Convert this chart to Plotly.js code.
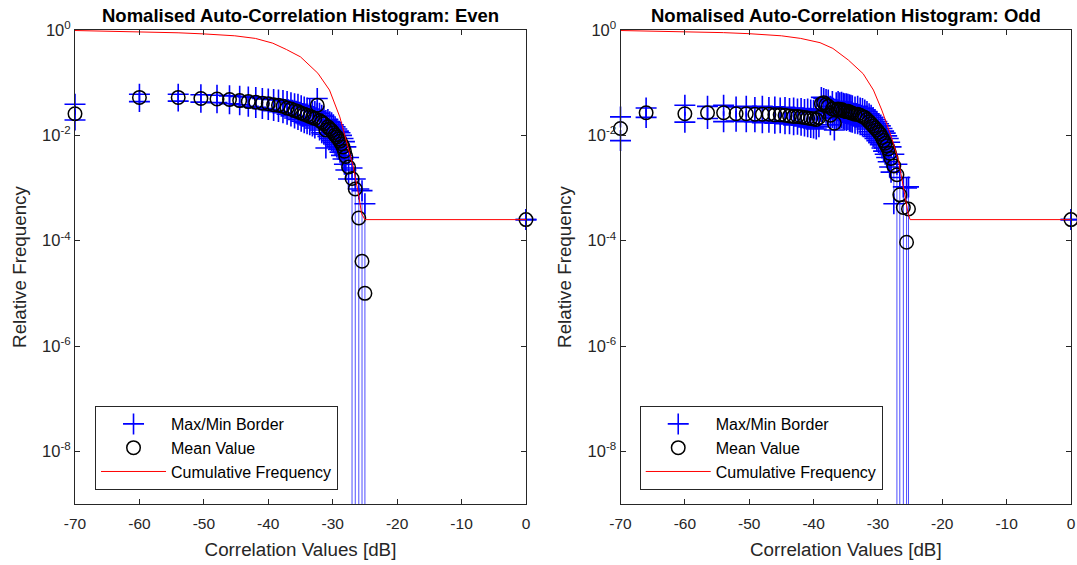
<!DOCTYPE html>
<html>
<head>
<meta charset="utf-8">
<script src="https://cdn.plot.ly/plotly-3.0.1.min.js"></script>
<style>
html,body{margin:0;padding:0;background:#fff;}
#chart{width:1077px;height:565px;}
</style>
</head>
<body>
<div id="chart"></div>
<script>
// ---------------- Even ----------------
const evenX = [-70, -60.0, -53.98, -50.46, -47.96, -46.02, -44.44, -43.10, -41.94, -40.92, -40.00, -39.17, -38.42, -37.72, -37.08, -36.48, -35.92, -35.39, -34.89, -34.42, -33.98, -33.56, -33.15, -32.77, -32.40, -32.04, -31.70, -31.37, -31.06, -30.75, -30.46, -30.17, -29.90, -29.63, -29.37, -29.12, -28.87, -28.64, -28.40, -28.18, -27.96, -27.54, -27.0, -26.5, -25.95, -25.45, -25.0, 0];
const evenMean = [0.0257, 0.0525, 0.0525, 0.0501, 0.0490, 0.0479, 0.0457, 0.0437, 0.0427, 0.0407, 0.0398, 0.0380, 0.0372, 0.0355, 0.0331, 0.0316, 0.0295, 0.0282, 0.0263, 0.0251, 0.0240, 0.0229, 0.0219, 0.0209, 0.0372, 0.0191, 0.0178, 0.0166, 0.0126, 0.0145, 0.0132, 0.0123, 0.0112, 0.0102, 0.00933, 0.00851, 0.00776, 0.00692, 0.00603, 0.00501, 0.00398, 0.00251, 0.00151, 0.000955, 0.000269, 0.0000407, 0.0000100, 0.000251];
const evenMax = [0.0389, 0.0603, 0.0603, 0.0589, 0.0575, 0.0562, 0.0550, 0.0537, 0.0525, 0.0501, 0.0490, 0.0479, 0.0468, 0.0457, 0.0437, 0.0417, 0.0398, 0.0389, 0.0363, 0.0347, 0.0331, 0.0316, 0.0302, 0.0282, 0.0501, 0.0263, 0.0240, 0.0229, 0.0191, 0.0200, 0.0182, 0.0174, 0.0158, 0.0145, 0.0132, 0.0120, 0.0112, 0.0100, 0.00871, 0.00759, 0.00603, 0.00380, 0.00240, 0.00148, 0.000955, 0.000891, 0.000501, 0.000251];
const evenMin = [0.0195, 0.0437, 0.0447, 0.0427, 0.0417, 0.0398, 0.0380, 0.0355, 0.0339, 0.0324, 0.0309, 0.0295, 0.0282, 0.0269, 0.0251, 0.0234, 0.0214, 0.0200, 0.0186, 0.0174, 0.0166, 0.0158, 0.0151, 0.0138, 0.0263, 0.0126, 0.0112, 0.0105, 0.00575, 0.00955, 0.00871, 0.00794, 0.00724, 0.00661, 0.00603, 0.00537, 0.00479, 0.00417, 0.00355, 0.00282, 0.00219, 0.00148, 0, 0, 0, 0, 0, 0.000251];
const evenCumX = [-70, -60, -54, -50, -45.2, -42, -39.3, -37.2, -35, -32.3, -30.5, -28.9, -27.9, -26.8, -26.1, -25.5, -25.0, 0];
const evenCumY = [0.977, 0.925, 0.885, 0.843, 0.776, 0.692, 0.562, 0.427, 0.309, 0.151, 0.0724, 0.0224, 0.00794, 0.00251, 0.000891, 0.000324, 0.000251, 0.000251];

// ---------------- Odd ----------------
const oddX = [-70, -66.02, -60.00, -56.48, -53.98, -52.04, -50.46, -49.12, -47.96, -46.94, -46.02, -45.19, -44.44, -43.74, -43.10, -42.50, -41.94, -41.41, -40.92, -40.44, -40.00, -39.58, -39.17, -38.79, -38.42, -38.06, -37.72, -37.39, -37.08, -36.77, -36.48, -36.19, -35.92, -35.65, -35.39, -35.14, -34.89, -34.66, -34.42, -34.20, -33.98, -33.56, -33.15, -32.76, -32.40, -32.04, -31.70, -31.37, -31.06, -30.75, -30.46, -30.17, -29.90, -29.63, -29.37, -29.12, -28.87, -28.64, -28.40, -28.18, -27.96, -27.53, -27.05, -26.6, -26.05, -25.55, -25.25, 0];
const oddMean = [0.0135, 0.0269, 0.0257, 0.0269, 0.0269, 0.0257, 0.0257, 0.0251, 0.0251, 0.0251, 0.0245, 0.0245, 0.0240, 0.0234, 0.0229, 0.0229, 0.0224, 0.0219, 0.0214, 0.0209, 0.0204, 0.0200, 0.0219, 0.0398, 0.0417, 0.0380, 0.0355, 0.0240, 0.0316, 0.0170, 0.0302, 0.0316, 0.0302, 0.0309, 0.0295, 0.0288, 0.0282, 0.0288, 0.0275, 0.0269, 0.0263, 0.0251, 0.0251, 0.0240, 0.0229, 0.0219, 0.0200, 0.0182, 0.0166, 0.0151, 0.0138, 0.0126, 0.0115, 0.0105, 0.00912, 0.00794, 0.00708, 0.00631, 0.00550, 0.00457, 0.00363, 0.00263, 0.00178, 0.000741, 0.000427, 0.0000933, 0.000398, 0.000251];
const oddMax = [0.0224, 0.0331, 0.0372, 0.0355, 0.0372, 0.0347, 0.0355, 0.0339, 0.0355, 0.0339, 0.0347, 0.0331, 0.0339, 0.0324, 0.0331, 0.0316, 0.0324, 0.0309, 0.0316, 0.0302, 0.0295, 0.0302, 0.0316, 0.0525, 0.0501, 0.0479, 0.0468, 0.0355, 0.0437, 0.0251, 0.0417, 0.0437, 0.0417, 0.0427, 0.0407, 0.0398, 0.0398, 0.0389, 0.0380, 0.0372, 0.0363, 0.0347, 0.0355, 0.0331, 0.0324, 0.0302, 0.0282, 0.0257, 0.0240, 0.0219, 0.0200, 0.0182, 0.0166, 0.0151, 0.0135, 0.0120, 0.0110, 0.00977, 0.00871, 0.00741, 0.00603, 0.00437, 0.00282, 0.00158, 0.00105, 0.00100, 0.00105, 0.000251];
const oddMin = [0.00794, 0.0219, 0.0178, 0.0209, 0.0182, 0.0186, 0.0182, 0.0182, 0.0174, 0.0178, 0.0170, 0.0174, 0.0166, 0.0166, 0.0158, 0.0162, 0.0155, 0.0151, 0.0145, 0.0141, 0.0138, 0.0132, 0.0145, 0.0282, 0.0302, 0.0263, 0.0240, 0.0158, 0.0219, 0.0126, 0.0209, 0.0219, 0.0209, 0.0214, 0.0204, 0.0200, 0.0191, 0.0200, 0.0186, 0.0182, 0.0178, 0.0170, 0.0166, 0.0158, 0.0151, 0.0145, 0.0132, 0.0117, 0.0105, 0.00955, 0.00871, 0.00794, 0.00724, 0.00661, 0.00575, 0.00501, 0.00437, 0.00380, 0.00316, 0.00251, 0.00200, 0.000501, 0, 0, 0, 0, 0, 0.000251];
const oddCumX = [-70, -60, -54, -50, -45, -42, -39, -37, -34.6, -32.3, -30.7, -29.4, -28.6, -27.9, -26.8, -26.1, -25.3, -25.0, 0];
const oddCumY = [0.977, 0.933, 0.891, 0.851, 0.776, 0.692, 0.575, 0.447, 0.269, 0.148, 0.0724, 0.0302, 0.0166, 0.00933, 0.00331, 0.00105, 0.000324, 0.000251, 0.000251];

const xTickVals = [-70, -60, -50, -40, -30, -20, -10, 0];
const xTickText = ['-70', '-60', '-50', '-40', '-30', '-20', '-10', '0'];
const yTickVals = [1, 1e-2, 1e-4, 1e-6, 1e-8];
const yTickText = ['10<sup>0</sup>', '10<sup>-2</sup>', '10<sup>-4</sup>', '10<sup>-6</sup>', '10<sup>-8</sup>'];

const FONT = '"Liberation Sans", Arial, Helvetica, sans-serif';
const AX = '#262626';
const FLOOR = 1e-30; // a zero lower bound runs off the bottom of the log axis

function errLines(x, lo, hi) {
  const xs = [], ys = [];
  for (let i = 0; i < x.length; i++) {
    xs.push(x[i], x[i], null);
    ys.push(lo[i] > 0 ? lo[i] : FLOOR, hi[i], null);
  }
  return {xs, ys};
}
function borders(x, lo, hi) {
  const xs = [], ys = [];
  for (let i = 0; i < x.length; i++) {
    xs.push(x[i]); ys.push(hi[i]);
    if (lo[i] > 0) { xs.push(x[i]); ys.push(lo[i]); }
  }
  return {xs, ys};
}

function panel(x, mean, mx, mn, cx, cy, xa, ya, leg) {
  const e = errLines(x, mn, mx);
  const b = borders(x, mn, mx);
  return [
    {type:'scatter', mode:'lines', x:e.xs, y:e.ys, xaxis:xa, yaxis:ya, showlegend:false, hoverinfo:'skip',
     line:{color:'rgba(0,0,255,0.7)', width:1}},
    {type:'scatter', mode:'markers', name:'Max/Min Border', x:b.xs, y:b.ys, xaxis:xa, yaxis:ya, legend:leg, cliponaxis:false,
     marker:{symbol:'cross-thin-open', size:15, color:'#0000ff', line:{color:'#0000ff', width:1.6}}},
    {type:'scatter', mode:'markers', name:'Mean Value', x:x, y:mean, xaxis:xa, yaxis:ya, legend:leg, cliponaxis:false,
     marker:{symbol:'circle-open', size:13.5, color:'#000000', line:{color:'#000000', width:1.5}}},
    {type:'scatter', mode:'lines', name:'Cumulative Frequency', x:cx, y:cy, xaxis:xa, yaxis:ya, legend:leg,
     line:{color:'#ff0000', width:1}}
  ];
}

const data = [].concat(
  panel(evenX, evenMean, evenMax, evenMin, evenCumX, evenCumY, 'x', 'y', 'legend'),
  panel(oddX, oddMean, oddMax, oddMin, oddCumX, oddCumY, 'x2', 'y2', 'legend2')
);

function xAxis(domain, anchor) {
  return {domain, anchor, range:[-70, 0], tickmode:'array', tickvals:xTickVals, ticktext:xTickText,
    ticks:'inside', ticklen:5, tickwidth:1, tickcolor:AX, showline:true, mirror:'ticks', linecolor:AX, linewidth:1,
    showgrid:false, zeroline:false, tickfont:{family:FONT, size:15.5, color:AX}, ticklabelstandoff:5,
    title:{text:'Correlation Values [dB]', font:{family:FONT, size:18.8, color:AX}, standoff:12}};
}
function yAxis(anchor) {
  return {anchor, type:'log', range:[-9, 0], tickmode:'array', tickvals:yTickVals, ticktext:yTickText,
    ticks:'inside', ticklen:5, tickwidth:1, tickcolor:AX, showline:true, mirror:'ticks', linecolor:AX, linewidth:1,
    showgrid:false, zeroline:false, tickfont:{family:FONT, size:16.5, color:AX},
    title:{text:'Relative Frequency', font:{family:FONT, size:18.8, color:AX}, standoff:10}};
}
function legendCfg(x) {
  return {x, y:0.2068, xanchor:'left', yanchor:'top', xref:'paper', yref:'paper',
    bgcolor:'#ffffff', bordercolor:AX, borderwidth:1, itemwidth:65,
    font:{family:FONT, size:16, color:'#000000'}, tracegroupgap:0};
}

const L = 0.4528, R = 0.5477;
const layout = {
  width:1077, height:565, paper_bgcolor:'#ffffff', plot_bgcolor:'#ffffff',
  margin:{l:75, r:6, t:30, b:61},
  font:{family:FONT, color:AX},
  showlegend:true,
  xaxis: xAxis([0, L], 'y'),
  yaxis: yAxis('x'),
  xaxis2: xAxis([R, 1], 'y2'),
  yaxis2: yAxis('x2'),
  legend: legendCfg(0.0201),
  legend2: legendCfg(0.567),
  annotations:[
    {text:'<b>Nomalised Auto-Correlation Histogram: Even</b>', xref:'paper', yref:'paper', x:L/2, y:1,
     xanchor:'center', yanchor:'middle', yshift:15, showarrow:false, font:{family:FONT, size:18.5, color:'#000000'}},
    {text:'<b>Nomalised Auto-Correlation Histogram: Odd</b>', xref:'paper', yref:'paper', x:(R+1)/2, y:1,
     xanchor:'center', yanchor:'middle', yshift:15, showarrow:false, font:{family:FONT, size:18.5, color:'#000000'}}
  ]
};

Plotly.newPlot('chart', data, layout, {displayModeBar:false, staticPlot:true});
</script>
</body>
</html>
